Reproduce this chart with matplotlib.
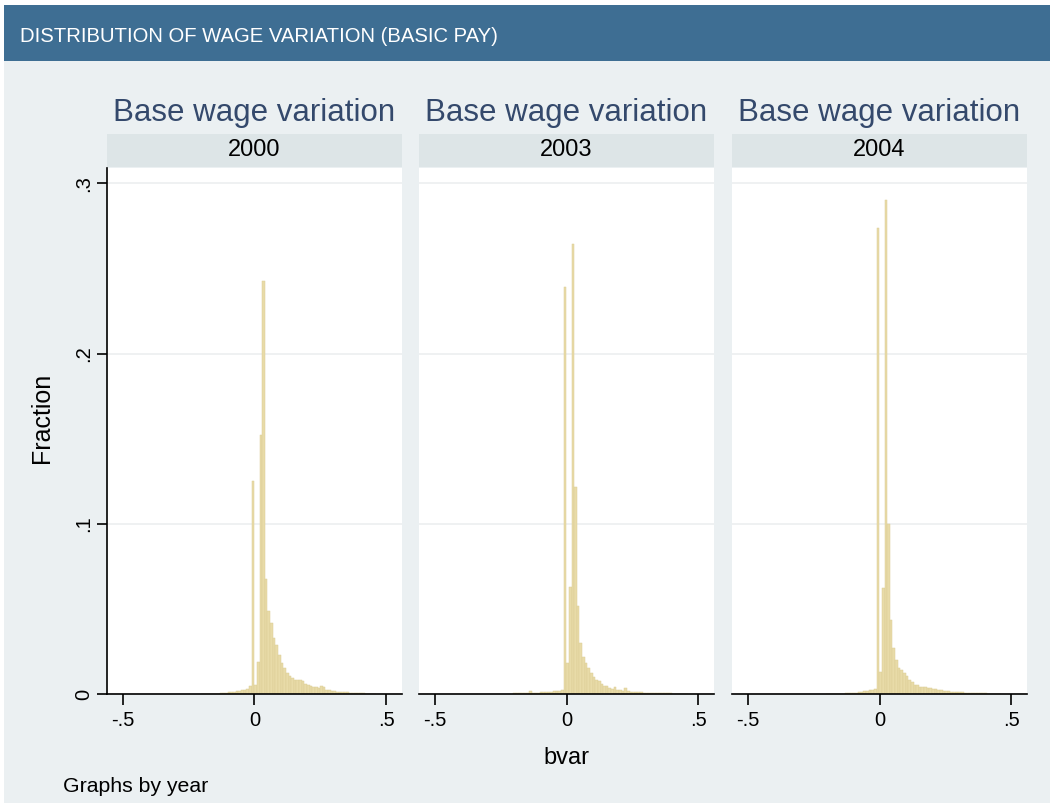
import numpy as np
import matplotlib.pyplot as plt
from matplotlib.patches import Rectangle

plt.rcParams['font.family'] = ['Liberation Sans', 'DejaVu Sans']

# histogram bins: width .01, first left edge at -.201
bin_start = -0.201
bin_width = 0.01

years = ['2000', '2003', '2004']

frac_2000 = [0, 0, 0, 0, 0, 0, 0,
             0.0005, 0.0006, 0.0008, 0.001, 0.0012, 0.0014, 0.0016, 0.0019, 0.0022, 0.0026, 0.003, 0.0045,
             0.125, 0.005, 0.0186, 0.152, 0.2425, 0.0675, 0.049, 0.0417, 0.033, 0.029,
             0.023, 0.018, 0.015, 0.0123, 0.0104, 0.0094, 0.0085, 0.0082, 0.0084, 0.0078,
             0.006, 0.0055, 0.0045, 0.0041, 0.0039, 0.0035, 0.0045, 0.0043, 0.0025, 0.0021,
             0.0018, 0.0016, 0.0014, 0.0013, 0.0012, 0.001, 0.0009, 0.0008, 0.0007, 0.0006,
             0.0005, 0.0004, 0.0003, 0, 0, 0, 0]

frac_2003 = [0.0003, 0.0003, 0.0004, 0.0004, 0.0005, 0.0005, 0.0016,
             0.0006, 0.0007, 0.0008, 0.0009, 0.001, 0.0011, 0.0012, 0.0013, 0.0015, 0.0017, 0.002, 0.0022,
             0.239, 0.018, 0.063, 0.2645, 0.1215, 0.0515, 0.030, 0.022, 0.018, 0.0153,
             0.0123, 0.010, 0.0084, 0.0074, 0.006, 0.0049, 0.0045, 0.0035, 0.003, 0.0041,
             0.0025, 0.0022, 0.0019, 0.0035, 0.0016, 0.0014, 0.0012, 0.0011, 0.001, 0.0009,
             0.0008, 0.0007, 0.0007, 0.0006, 0.0005, 0.0005, 0.0004, 0.0004, 0.0003, 0.0003,
             0.0003, 0.0002, 0.0002, 0.0002, 0.0002, 0.0001, 0.0001]

frac_2004 = [0, 0, 0, 0, 0, 0, 0,
             0.0003, 0.0004, 0.0005, 0.0006, 0.0008, 0.001, 0.0012, 0.0015, 0.0018, 0.0022, 0.0026, 0.003,
             0.274, 0.013, 0.062, 0.290, 0.0996, 0.0435, 0.027, 0.020, 0.0153, 0.0143,
             0.0123, 0.0104, 0.008, 0.007, 0.0055, 0.0052, 0.0042, 0.0041, 0.004, 0.0036,
             0.0034, 0.003, 0.0032, 0.0026, 0.0022, 0.002, 0.0018, 0.0016, 0.0014, 0.0012,
             0.0011, 0.001, 0.0009, 0.0008, 0.0007, 0.0006, 0.0005, 0.0005, 0.0004, 0.0004,
             0.0003, 0.0003, 0.0002, 0.0002, 0.0001, 0.0001, 0]

fractions = [frac_2000, frac_2003, frac_2004]

y_ticks = [0, 0.1, 0.2, 0.3]
y_ticklabels = ['0', '.1', '.2', '.3']
x_ticks = [-0.5, 0, 0.5]
x_ticklabels = ['-.5', '0', '.5']

W, H = 1053, 807
header_col = '#3e6e93'
bg_col = '#ebf0f2'
strip_col = '#dde5e7'
bar_col = '#e8dba8'
bar_edge = '#dccd96'
title_col = '#34496c'

fig = plt.figure(figsize=(W / 100, H / 100), dpi=100)
fig.patch.set_facecolor('white')

def px_rect(x0, y0, x1, y1):
    # pixel box (top-left origin) -> figure fraction rect
    return [x0 / W, (H - y1) / H, (x1 - x0) / W, (y1 - y0) / H]

r = px_rect(4, 61, 1050, 803)
fig.patches.append(Rectangle((r[0], r[1]), r[2], r[3], transform=fig.transFigure,
                             facecolor=bg_col, edgecolor='none', zorder=-2))
r = px_rect(4, 5, 1050, 61)
fig.patches.append(Rectangle((r[0], r[1]), r[2], r[3], transform=fig.transFigure,
                             facecolor=header_col, edgecolor='none', zorder=-2))
fig.text(20 / W, 1 - 36 / H, 'DISTRIBUTION OF WAGE VARIATION (BASIC PAY)',
         color='white', fontsize=14.6, ha='left', va='center')

panel_x = [(107, 402), (419, 714), (732, 1027)]
edges = bin_start + bin_width * np.arange(len(frac_2000))

for i, (x0, x1) in enumerate(panel_x):
    ax = fig.add_axes(px_rect(x0, 168, x1, 694))
    ax.set_facecolor('white')
    ax.bar(edges, fractions[i], width=bin_width, align='edge',
           color=bar_col, edgecolor=bar_edge, linewidth=0.35, zorder=2)
    ax.set_xlim(-0.559, 0.559)
    ax.set_ylim(0, 0.309)
    ax.set_yticks(y_ticks)
    ax.yaxis.grid(True, color='#eceff0', linewidth=1.2, zorder=0)
    ax.set_axisbelow(True)
    ax.set_xticks(x_ticks)
    ax.set_xticklabels(x_ticklabels, fontsize=14.5)
    ax.tick_params(axis='x', length=8, width=1.2, pad=4, color='black')
    for s in ['top', 'right']:
        ax.spines[s].set_visible(False)
    ax.spines['bottom'].set_linewidth(1.2)
    if i == 0:
        ax.set_yticklabels(y_ticklabels, fontsize=14.5, rotation=90, va='center')
        ax.tick_params(axis='y', length=7, width=1.2, pad=3)
        ax.spines['left'].set_linewidth(1.2)
    else:
        ax.spines['left'].set_visible(False)
        ax.tick_params(axis='y', length=0, labelleft=False)

    # strip with year
    sax = fig.add_axes(px_rect(x0, 134, x1, 167))
    sax.set_facecolor(strip_col)
    sax.set_xticks([])
    sax.set_yticks([])
    for s in sax.spines.values():
        s.set_visible(False)
    sax.text(0.5, 0.5, years[i], transform=sax.transAxes, ha='center', va='center',
             fontsize=17, color='black')

    fig.text((x0 + x1) / 2 / W, 1 - 113 / H, 'Base wage variation',
             ha='center', va='center', fontsize=22.5, color=title_col)

fig.text(42 / W, 1 - 418 / H, 'Fraction', rotation=90, ha='center', va='center', fontsize=18)
fig.text(566 / W, 1 - 758 / H, 'bvar', ha='center', va='center', fontsize=17)
fig.text(63 / W, 1 - 786 / H, 'Graphs by year', ha='left', va='center', fontsize=15.3)

fig.savefig('out.png', dpi=100, facecolor=fig.get_facecolor())
